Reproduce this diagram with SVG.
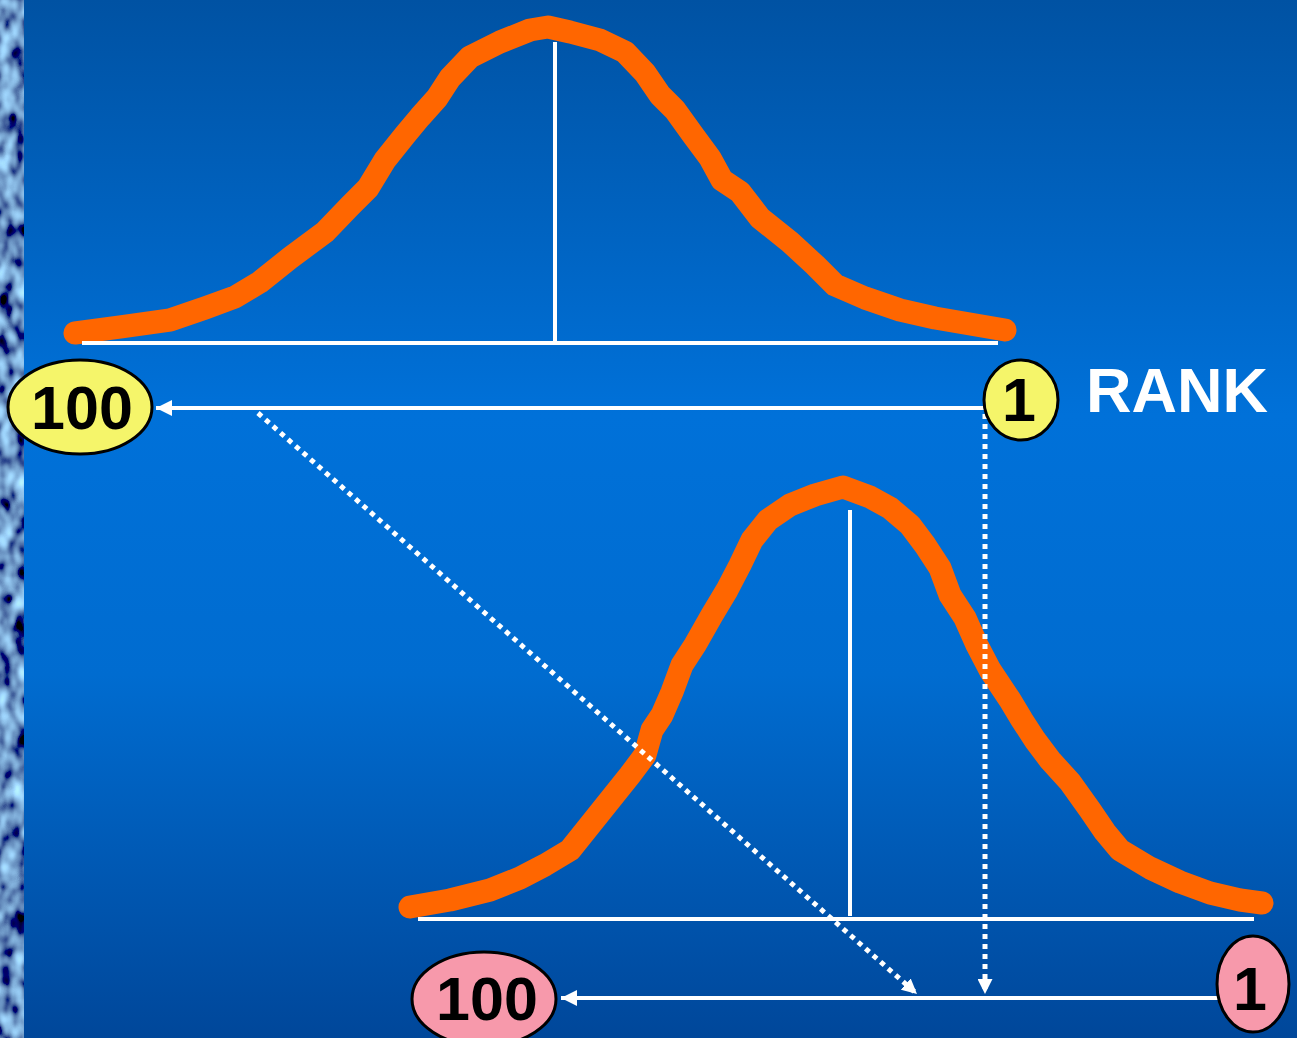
<svg xmlns="http://www.w3.org/2000/svg" width="1297" height="1038" viewBox="0 0 1297 1038">
<defs>
<linearGradient id="bg" x1="0" y1="0" x2="0" y2="1">
<stop offset="0" stop-color="#0052A3"/>
<stop offset="0.4" stop-color="#0071D9"/>
<stop offset="0.65" stop-color="#006CD0"/>
<stop offset="1" stop-color="#00479A"/>
</linearGradient>
<filter id="tex" x="0" y="0" width="1" height="1">
<feTurbulence type="fractalNoise" baseFrequency="0.07 0.045" numOctaves="2" seed="7" result="n"/>
<feColorMatrix in="n" type="matrix" values="0.9 0 0 0 -0.3  1.7 0 0 0 -0.55  2.0 0 0 0 -0.45  0 0 0 0 1"/>
</filter>
<marker id="ah" viewBox="0 0 10 10" refX="10" refY="5" markerWidth="4" markerHeight="4" markerUnits="strokeWidth" orient="auto">
<path d="M0,0 L10,5 L0,10 z" fill="#fff"/>
</marker>
<marker id="ahd" viewBox="0 0 10 10" refX="10" refY="5" markerWidth="3" markerHeight="3" markerUnits="strokeWidth" orient="auto">
<path d="M0,0 L10,5 L0,10 z" fill="#fff"/>
</marker>
</defs>
<style>
.curve{fill:none;stroke:#FF6600;stroke-width:23;stroke-linecap:round;stroke-linejoin:round}
.axis{stroke:#fff;stroke-width:4;fill:none}
.dot{stroke:#fff;stroke-width:5;fill:none;stroke-dasharray:5 5}
.lbl{font-family:"Liberation Sans",Arial,sans-serif;font-weight:bold;text-anchor:middle;fill:#000}
.ye{fill:#F5F56A;stroke:#000;stroke-width:3}
.pk{fill:#F799AB;stroke:#000;stroke-width:3}
</style>
<rect width="1297" height="1038" fill="url(#bg)"/>
<rect x="0" y="0" width="24" height="1038" fill="#0a2a4a" filter="url(#tex)"/>

<g id="top-curve">
<path class="curve" d="M75,333 L120,327 L170,320 L205,308 L235,297 L260,282 L290,258 L325,232 L350,206 L368,188 L385,160 L405,135 L420,117 L437,98 L450,78 L470,57 L500,42 L530,30 L548,27 L570,32 L600,40 L625,52 L645,73 L660,95 L675,110 L693,135 L710,158 L722,180 L740,192 L760,218 L790,242 L815,265 L835,285 L865,298 L900,310 L935,318 L970,324 L1005,330"/>
<line class="axis" x1="82" y1="343" x2="998" y2="343"/>
<line class="axis" x1="555" y1="42" x2="555" y2="341"/>
</g>

<g id="bottom-curve">
<path class="curve" d="M410,907 L450,900 L490,890 L520,878 L545,865 L570,850 L590,825 L610,800 L630,775 L645,755 L652,730 L662,715 L672,692 L682,665 L695,645 L712,615 L727,590 L740,565 L752,540 L768,520 L790,505 L815,495 L843,487 L870,497 L890,508 L910,525 L925,545 L940,568 L950,595 L965,618 L977,645 L990,670 L1010,700 L1022,720 L1035,740 L1050,760 L1070,782 L1090,810 L1105,832 L1120,850 L1150,868 L1180,882 L1210,893 L1240,900 L1262,903"/>
<line class="axis" x1="418" y1="919" x2="1254" y2="919"/>
<line class="axis" x1="850" y1="510" x2="850" y2="916"/>
</g>

<g id="connectors">
<line class="axis" x1="989" y1="408" x2="156" y2="408" marker-end="url(#ah)"/>
<line class="axis" x1="1222" y1="998" x2="561" y2="998" marker-end="url(#ah)"/>
<line class="dot" x1="985" y1="414" x2="985" y2="994" marker-end="url(#ahd)"/>
<line class="dot" x1="258" y1="413" x2="917" y2="994" marker-end="url(#ahd)"/>
</g>

<g id="rank100-top">
<ellipse class="ye" cx="80" cy="407" rx="72" ry="47"/>
<text class="lbl" x="82" y="429" font-size="61">100</text>
</g>
<g id="rank1-top">
<ellipse class="ye" cx="1021" cy="400" rx="37" ry="40"/>
<text class="lbl" x="1019" y="421" font-size="61">1</text>
</g>
<g id="rank-label">
<text x="1086" y="412" font-family="Liberation Sans,Arial,sans-serif" font-weight="bold" font-size="63" fill="#fff">RANK</text>
</g>
<g id="rank100-bottom">
<ellipse class="pk" cx="484" cy="999" rx="72" ry="47"/>
<text class="lbl" x="487" y="1020" font-size="61">100</text>
</g>
<g id="rank1-bottom">
<ellipse class="pk" cx="1253" cy="984" rx="36" ry="48"/>
<text class="lbl" x="1250" y="1010" font-size="61">1</text>
</g>
</svg>
